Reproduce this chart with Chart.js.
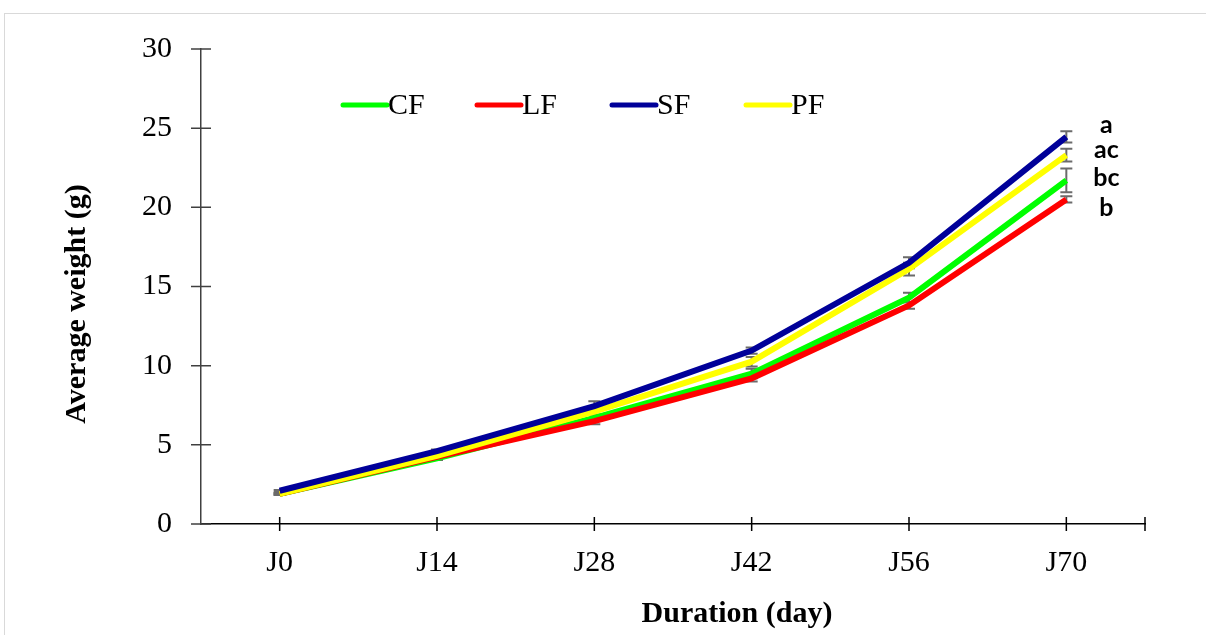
<!DOCTYPE html>
<html>
<head>
<meta charset="utf-8">
<script src="https://cdn.jsdelivr.net/npm/chart.js@4"></script>
<style>
  html, body { margin: 0; padding: 0; background: #fff; }
  #wrap { position: relative; width: 1206px; height: 635px; overflow: hidden; }
  #frame { position: absolute; left: 4px; top: 13px; width: 1220px; height: 640px; border: 1px solid #d9d9d9; box-sizing: border-box; pointer-events: none; }
  canvas { position: absolute; left: 0; top: 0; }
</style>
</head>
<body>
<div id="wrap">
  <canvas id="c" width="1206" height="635"></canvas>
  <div id="frame"></div>
</div>
<script>
const categories = ['J0', 'J14', 'J28', 'J42', 'J56', 'J70'];
const seriesNames = ['CF', 'LF', 'SF', 'PF'];
const cfValues = [1.9, 4.15, 6.7, 9.5, 14.3, 21.7];
const lfValues = [1.9, 4.25, 6.5, 9.2, 13.8, 20.5];
const sfValues = [2.1, 4.6, 7.45, 10.95, 16.5, 24.45];
const pfValues = [1.9, 4.3, 7.1, 10.25, 16.1, 23.3];
const cfErrors = [0.05, 0.1, 0.2, 0.3, 0.3, 0.75];
const lfErrors = [0.05, 0.1, 0.2, 0.2, 0.2, 0.2];
const sfErrors = [0.05, 0.1, 0.3, 0.2, 0.35, 0.35];
const pfErrors = [0.05, 0.1, 0.2, 0.3, 0.4, 0.4];
const groupLetters = ['a', 'ac', 'bc', 'b'];
const letterLevels = [24.7, 23.1, 21.35, 19.45];
const xTitle = 'Duration (day)';
const yTitle = 'Average weight (g)';

const colors = { CF: '#00ff00', LF: '#ff0000', SF: '#000099', PF: '#ffff00' };
const valuesByName = { CF: cfValues, LF: lfValues, SF: sfValues, PF: pfValues };
const errorsByName = { CF: cfErrors, LF: lfErrors, SF: sfErrors, PF: pfErrors };
const drawOrder = { SF: 0, PF: 1, LF: 2, CF: 3 };

const datasets = seriesNames.map(n => ({
  label: n,
  data: valuesByName[n],
  errors: errorsByName[n],
  borderColor: colors[n],
  backgroundColor: colors[n],
  borderWidth: 6,
  pointRadius: 0,
  tension: 0,
  fill: false,
  order: drawOrder[n]
}));

const errorBars = {
  id: 'errorBars',
  beforeDatasetsDraw(chart) {
    const ctx = chart.ctx, y = chart.scales.y;
    ctx.save();
    ctx.strokeStyle = '#6b6b6b';
    ctx.lineWidth = 2;
    chart.data.datasets.forEach((ds, i) => {
      const meta = chart.getDatasetMeta(i);
      meta.data.forEach((pt, j) => {
        const v = ds.data[j], e = ds.errors[j];
        const yt = y.getPixelForValue(v + e), yb = y.getPixelForValue(v - e);
        ctx.beginPath();
        ctx.moveTo(pt.x, yt); ctx.lineTo(pt.x, yb);
        ctx.moveTo(pt.x - 6, yt); ctx.lineTo(pt.x + 6, yt);
        ctx.moveTo(pt.x - 6, yb); ctx.lineTo(pt.x + 6, yb);
        ctx.stroke();
      });
    });
    ctx.restore();
  }
};

const decorations = {
  id: 'decorations',
  afterDraw(chart) {
    const ctx = chart.ctx, xs = chart.scales.x, ys = chart.scales.y, ca = chart.chartArea;
    ctx.save();
    // crossing tick marks
    ctx.lineWidth = 1.5;
    ctx.strokeStyle = '#000';
    ctx.beginPath();
    categories.forEach((c, i) => {
      const px = xs.getPixelForValue(i);
      ctx.moveTo(px, ca.bottom - 7); ctx.lineTo(px, ca.bottom + 7);
    });
    ctx.moveTo(ca.right, ca.bottom - 7); ctx.lineTo(ca.right, ca.bottom + 7);
    ctx.stroke();
    ctx.strokeStyle = '#404040';
    ctx.beginPath();
    ys.ticks.forEach(t => {
      const py = ys.getPixelForValue(t.value);
      ctx.moveTo(ca.left - 10, py); ctx.lineTo(ca.left + 10, py);
    });
    ctx.stroke();

    // legend
    const legendX = [341, 475, 610, 744];
    const legendY = 105;
    ctx.font = '30px "Liberation Serif"';
    ctx.textBaseline = 'middle';
    ctx.textAlign = 'left';
    chart.data.datasets.forEach((ds, i) => {
      const x0 = legendX[i];
      ctx.strokeStyle = ds.borderColor;
      ctx.lineWidth = 5;
      ctx.lineCap = 'round';
      ctx.beginPath();
      ctx.moveTo(x0 + 2, legendY); ctx.lineTo(x0 + 46, legendY);
      ctx.stroke();
      ctx.fillStyle = '#000';
      ctx.fillText(ds.label, x0 + 47, legendY + 1);
    });

    // significance letters
    ctx.font = 'bold 25px Lato';
    ctx.textAlign = 'center';
    ctx.textBaseline = 'alphabetic';
    ctx.fillStyle = '#000';
    const lx = xs.getPixelForValue(categories.length - 1) + 40;
    groupLetters.forEach((t, i) => {
      ctx.fillText(t, lx, ys.getPixelForValue(letterLevels[i]));
    });

    // axis titles
    ctx.font = 'bold 30px "Liberation Serif"';
    ctx.textAlign = 'center';
    ctx.textBaseline = 'alphabetic';
    ctx.fillText(xTitle, 737, 622);
    ctx.save();
    ctx.translate(77, 304);
    ctx.rotate(-Math.PI / 2);
    ctx.textBaseline = 'middle';
    ctx.fillText(yTitle, 0, 0);
    ctx.restore();
    ctx.restore();
  }
};

new Chart(document.getElementById('c'), {
  type: 'line',
  data: { labels: categories, datasets },
  options: {
    responsive: false,
    animation: false,
    devicePixelRatio: 1,
    layout: { padding: { top: 49, right: 61, left: 0, bottom: 0 } },
    plugins: { legend: { display: false }, tooltip: { enabled: false } },
    scales: {
      x: {
        type: 'category',
        offset: true,
        grid: { display: true, drawOnChartArea: false, drawTicks: false, offset: false },
        border: { display: true, color: '#000', width: 1.5 },
        ticks: { color: '#000', font: { family: 'Liberation Serif', size: 30 }, padding: 21, maxRotation: 0 },
        afterFit(s) { s.height = 111; }
      },
      y: {
        min: 0, max: 30,
        ticks: { stepSize: 5, color: '#000', font: { family: 'Liberation Serif', size: 30 }, padding: 29 },
        grid: { display: true, drawOnChartArea: false, drawTicks: false },
        border: { display: true, color: '#404040', width: 1.5 },
        afterFit(s) { s.width = 201; }
      }
    }
  },
  plugins: [errorBars, decorations]
});
</script>
</body>
</html>
